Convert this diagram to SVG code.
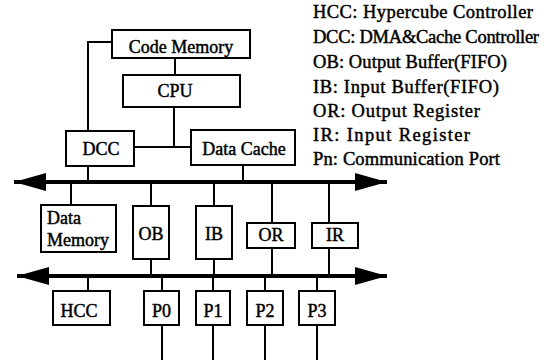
<svg xmlns="http://www.w3.org/2000/svg" width="552" height="364" viewBox="0 0 552 364">
  <style>
    .box { fill: #fff; stroke: #000; stroke-width: 2; }
    .wire { fill: none; stroke: #000; stroke-width: 2; }
    .bus { fill: none; stroke: #000; stroke-width: 4; marker-start: url(#head); marker-end: url(#head); }
    text { font-family: "Liberation Serif", "Times New Roman", serif; font-size: 18px; fill: #000; stroke: #000; stroke-width: 0.45; }
    .lbl { text-anchor: middle; }
    .key { font-size: 18.5px; }
  </style>
  <defs>
    <marker id="head" markerUnits="userSpaceOnUse" markerWidth="32" markerHeight="18" viewBox="0 0 32 18" refX="32" refY="9" orient="auto-start-reverse">
      <path d="M0,0 L32,9 L0,18 Z" fill="#000"/>
    </marker>
  </defs>

  <rect width="552" height="364" fill="#fff"/>

  <!-- connectors -->
  <g id="connectors">
    <!-- processor side -->
    <polyline class="wire" points="112,42 88,42 88,131"/>
    <line class="wire" x1="175" y1="58" x2="175" y2="75"/>
    <line class="wire" x1="174" y1="107" x2="174" y2="147"/>
    <line class="wire" x1="134" y1="147" x2="191" y2="147"/>
    <line class="wire" x1="88" y1="166" x2="88" y2="182"/>
    <line class="wire" x1="243" y1="165" x2="243" y2="182"/>
    <!-- upper bus taps -->
    <line class="wire" x1="71" y1="182" x2="71" y2="205"/>
    <line class="wire" x1="151" y1="182" x2="151" y2="206"/>
    <line class="wire" x1="214" y1="182" x2="214" y2="206"/>
    <line class="wire" x1="272" y1="182" x2="272" y2="223"/>
    <line class="wire" x1="329" y1="182" x2="329" y2="223"/>
    <!-- lower bus taps -->
    <line class="wire" x1="151" y1="259" x2="151" y2="276"/>
    <line class="wire" x1="214" y1="259" x2="214" y2="276"/>
    <line class="wire" x1="272" y1="248" x2="272" y2="276"/>
    <line class="wire" x1="329" y1="248" x2="329" y2="276"/>
    <line class="wire" x1="88" y1="276" x2="88" y2="291"/>
    <line class="wire" x1="162" y1="276" x2="162" y2="291"/>
    <line class="wire" x1="213" y1="276" x2="213" y2="291"/>
    <line class="wire" x1="265" y1="276" x2="265" y2="291"/>
    <line class="wire" x1="317" y1="276" x2="317" y2="291"/>
    <!-- port links -->
    <line class="wire" x1="162" y1="325" x2="162" y2="360"/>
    <line class="wire" x1="213" y1="325" x2="213" y2="360"/>
    <line class="wire" x1="265" y1="325" x2="265" y2="360"/>
    <line class="wire" x1="317" y1="325" x2="317" y2="360"/>
    <!-- buses -->
    <line class="bus" x1="14" y1="182" x2="387" y2="182"/>
    <line class="bus" x1="17" y1="276" x2="387" y2="276"/>
  </g>

  <g id="code-memory">
    <rect class="box" x="112" y="30" width="138" height="28"/>
    <text class="lbl" x="181" y="53">Code Memory</text>
  </g>
  <g id="cpu">
    <rect class="box" x="123" y="75" width="117" height="32"/>
    <text class="lbl" x="175" y="97">CPU</text>
  </g>
  <g id="dcc">
    <rect class="box" x="66" y="131" width="68" height="35"/>
    <text class="lbl" x="101" y="155">DCC</text>
  </g>
  <g id="data-cache">
    <rect class="box" x="191" y="130" width="104" height="35"/>
    <text class="lbl" x="244" y="155">Data Cache</text>
  </g>
  <g id="data-memory">
    <rect class="box" x="41" y="205" width="75" height="47"/>
    <text x="47" y="224">Data</text>
    <text x="47" y="246">Memory</text>
  </g>
  <g id="ob">
    <rect class="box" x="133" y="206" width="36" height="53"/>
    <text class="lbl" x="151" y="240">OB</text>
  </g>
  <g id="ib">
    <rect class="box" x="196" y="206" width="36" height="53"/>
    <text class="lbl" x="214" y="240">IB</text>
  </g>
  <g id="or">
    <rect class="box" x="247" y="223" width="48" height="25"/>
    <text class="lbl" x="271" y="241">OR</text>
  </g>
  <g id="ir">
    <rect class="box" x="312" y="223" width="46" height="25"/>
    <text class="lbl" x="335" y="241">IR</text>
  </g>
  <g id="hcc">
    <rect class="box" x="53" y="291" width="57" height="34"/>
    <text class="lbl" x="79" y="317">HCC</text>
  </g>
  <g id="p0">
    <rect class="box" x="144" y="291" width="35" height="34"/>
    <text class="lbl" x="161.5" y="317">P0</text>
  </g>
  <g id="p1">
    <rect class="box" x="196" y="291" width="34" height="34"/>
    <text class="lbl" x="213" y="317">P1</text>
  </g>
  <g id="p2">
    <rect class="box" x="247" y="291" width="36" height="34"/>
    <text class="lbl" x="265" y="317">P2</text>
  </g>
  <g id="p3">
    <rect class="box" x="299" y="291" width="36" height="34"/>
    <text class="lbl" x="317" y="317">P3</text>
  </g>

  <!-- abbreviation key -->
  <g id="legend">
    <text class="key" x="313" y="18" textLength="220" lengthAdjust="spacing">HCC: Hypercube Controller</text>
    <text class="key" x="313" y="43" textLength="226" lengthAdjust="spacing">DCC: DMA&amp;Cache Controller</text>
    <text class="key" x="313" y="68" textLength="194" lengthAdjust="spacing">OB: Output Buffer(FIFO)</text>
    <text class="key" x="313" y="93" textLength="186" lengthAdjust="spacing">IB: Input Buffer(FIFO)</text>
    <text class="key" x="313" y="117" textLength="167" lengthAdjust="spacing">OR: Output Register</text>
    <text class="key" x="313" y="141" textLength="157" lengthAdjust="spacing">IR: Input Register</text>
    <text class="key" x="313" y="165" textLength="187" lengthAdjust="spacing">Pn: Communication Port</text>
  </g>
</svg>
